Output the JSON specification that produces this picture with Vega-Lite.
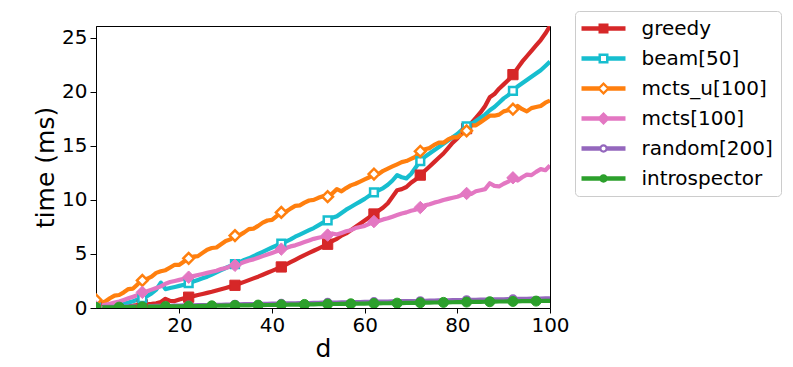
{
  "$schema": "https://vega.github.io/schema/vega-lite/v6.json",
  "width": 454,
  "height": 282,
  "autosize": {"type": "none"},
  "padding": {"left": 96, "top": 26, "right": 243, "bottom": 59},
  "background": "white",
  "config": {
    "font": "DejaVu Sans",
    "view": {"stroke": "#000000", "strokeWidth": 1},
    "axis": {"grid": false, "domainColor": "#000000", "tickColor": "#000000", "labelColor": "#000000", "titleColor": "#000000", "labelFont": "DejaVu Sans", "titleFont": "DejaVu Sans", "labelFontSize": 20, "titleFontSize": 25, "titleFontWeight": "normal", "domainWidth": 1, "tickWidth": 1, "labelFlush": false, "labelOverlap": false},
    "legend": {"symbolOpacity": 1}
  },
  "data": {"values": [
    {"d":2,"greedy":0.05,"beam":0.10,"mcts_u":0.75,"mcts":0.10,"random":0.08,"introspector":0.05},
    {"d":3,"greedy":0.06,"beam":0.12,"mcts_u":0.45,"mcts":0.20,"random":0.09,"introspector":0.06},
    {"d":4,"greedy":0.08,"beam":0.15,"mcts_u":0.60,"mcts":0.30,"random":0.10,"introspector":0.06},
    {"d":5,"greedy":0.09,"beam":0.20,"mcts_u":0.90,"mcts":0.40,"random":0.10,"introspector":0.07},
    {"d":6,"greedy":0.11,"beam":0.25,"mcts_u":1.15,"mcts":0.50,"random":0.11,"introspector":0.07},
    {"d":7,"greedy":0.13,"beam":0.32,"mcts_u":1.20,"mcts":0.60,"random":0.12,"introspector":0.08},
    {"d":8,"greedy":0.16,"beam":0.40,"mcts_u":1.45,"mcts":0.75,"random":0.13,"introspector":0.09},
    {"d":9,"greedy":0.19,"beam":0.50,"mcts_u":1.75,"mcts":0.90,"random":0.14,"introspector":0.09},
    {"d":10,"greedy":0.22,"beam":0.62,"mcts_u":1.80,"mcts":1.05,"random":0.15,"introspector":0.10},
    {"d":11,"greedy":0.26,"beam":0.78,"mcts_u":2.20,"mcts":1.20,"random":0.15,"introspector":0.10},
    {"d":12,"greedy":0.30,"beam":0.92,"mcts_u":2.55,"mcts":1.45,"random":0.16,"introspector":0.11},
    {"d":13,"greedy":0.34,"beam":1.10,"mcts_u":2.70,"mcts":1.55,"random":0.17,"introspector":0.12},
    {"d":14,"greedy":0.38,"beam":1.35,"mcts_u":2.90,"mcts":1.70,"random":0.18,"introspector":0.12},
    {"d":15,"greedy":0.43,"beam":1.70,"mcts_u":3.25,"mcts":1.85,"random":0.19,"introspector":0.13},
    {"d":16,"greedy":0.55,"beam":2.35,"mcts_u":3.40,"mcts":2.00,"random":0.20,"introspector":0.13},
    {"d":17,"greedy":0.85,"beam":1.75,"mcts_u":3.50,"mcts":2.25,"random":0.20,"introspector":0.14},
    {"d":18,"greedy":0.66,"beam":1.85,"mcts_u":3.75,"mcts":2.40,"random":0.21,"introspector":0.15},
    {"d":19,"greedy":0.64,"beam":1.95,"mcts_u":4.00,"mcts":2.50,"random":0.22,"introspector":0.15},
    {"d":20,"greedy":0.78,"beam":2.05,"mcts_u":4.00,"mcts":2.60,"random":0.23,"introspector":0.16},
    {"d":21,"greedy":0.90,"beam":2.15,"mcts_u":4.30,"mcts":2.70,"random":0.24,"introspector":0.16},
    {"d":22,"greedy":1.00,"beam":2.30,"mcts_u":4.60,"mcts":2.85,"random":0.25,"introspector":0.17},
    {"d":23,"greedy":1.10,"beam":2.45,"mcts_u":4.75,"mcts":2.95,"random":0.25,"introspector":0.18},
    {"d":24,"greedy":1.20,"beam":2.60,"mcts_u":4.80,"mcts":3.05,"random":0.26,"introspector":0.18},
    {"d":25,"greedy":1.30,"beam":2.75,"mcts_u":5.10,"mcts":3.15,"random":0.27,"introspector":0.19},
    {"d":26,"greedy":1.40,"beam":2.90,"mcts_u":5.40,"mcts":3.25,"random":0.28,"introspector":0.19},
    {"d":27,"greedy":1.50,"beam":3.10,"mcts_u":5.55,"mcts":3.35,"random":0.29,"introspector":0.20},
    {"d":28,"greedy":1.62,"beam":3.30,"mcts_u":5.60,"mcts":3.45,"random":0.30,"introspector":0.21},
    {"d":29,"greedy":1.74,"beam":3.50,"mcts_u":5.90,"mcts":3.60,"random":0.30,"introspector":0.22},
    {"d":30,"greedy":1.86,"beam":3.70,"mcts_u":6.20,"mcts":3.70,"random":0.31,"introspector":0.22},
    {"d":31,"greedy":1.98,"beam":3.90,"mcts_u":6.35,"mcts":3.85,"random":0.32,"introspector":0.23},
    {"d":32,"greedy":2.10,"beam":4.05,"mcts_u":6.70,"mcts":3.95,"random":0.33,"introspector":0.24},
    {"d":33,"greedy":2.26,"beam":4.25,"mcts_u":6.75,"mcts":4.10,"random":0.34,"introspector":0.24},
    {"d":34,"greedy":2.42,"beam":4.45,"mcts_u":7.00,"mcts":4.25,"random":0.35,"introspector":0.25},
    {"d":35,"greedy":2.58,"beam":4.60,"mcts_u":7.30,"mcts":4.40,"random":0.35,"introspector":0.25},
    {"d":36,"greedy":2.74,"beam":4.80,"mcts_u":7.35,"mcts":4.50,"random":0.36,"introspector":0.26},
    {"d":37,"greedy":2.90,"beam":5.00,"mcts_u":7.60,"mcts":4.65,"random":0.37,"introspector":0.27},
    {"d":38,"greedy":3.08,"beam":5.20,"mcts_u":7.90,"mcts":4.80,"random":0.38,"introspector":0.27},
    {"d":39,"greedy":3.26,"beam":5.40,"mcts_u":8.10,"mcts":4.95,"random":0.39,"introspector":0.28},
    {"d":40,"greedy":3.44,"beam":5.60,"mcts_u":8.15,"mcts":5.10,"random":0.40,"introspector":0.28},
    {"d":41,"greedy":3.62,"beam":5.80,"mcts_u":8.50,"mcts":5.25,"random":0.40,"introspector":0.29},
    {"d":42,"greedy":3.80,"beam":5.95,"mcts_u":8.85,"mcts":5.45,"random":0.41,"introspector":0.30},
    {"d":43,"greedy":4.02,"beam":6.15,"mcts_u":8.90,"mcts":5.55,"random":0.42,"introspector":0.30},
    {"d":44,"greedy":4.24,"beam":6.35,"mcts_u":9.20,"mcts":5.70,"random":0.43,"introspector":0.31},
    {"d":45,"greedy":4.46,"beam":6.60,"mcts_u":9.45,"mcts":5.80,"random":0.44,"introspector":0.32},
    {"d":46,"greedy":4.68,"beam":6.80,"mcts_u":9.50,"mcts":5.95,"random":0.45,"introspector":0.32},
    {"d":47,"greedy":4.90,"beam":7.00,"mcts_u":9.75,"mcts":6.10,"random":0.45,"introspector":0.33},
    {"d":48,"greedy":5.10,"beam":7.20,"mcts_u":9.95,"mcts":6.25,"random":0.46,"introspector":0.34},
    {"d":49,"greedy":5.30,"beam":7.40,"mcts_u":10.00,"mcts":6.40,"random":0.47,"introspector":0.34},
    {"d":50,"greedy":5.50,"beam":7.65,"mcts_u":10.20,"mcts":6.50,"random":0.48,"introspector":0.35},
    {"d":51,"greedy":5.70,"beam":7.90,"mcts_u":10.35,"mcts":6.60,"random":0.49,"introspector":0.35},
    {"d":52,"greedy":5.90,"beam":8.10,"mcts_u":10.30,"mcts":6.75,"random":0.50,"introspector":0.36},
    {"d":53,"greedy":6.20,"beam":8.35,"mcts_u":10.60,"mcts":6.90,"random":0.50,"introspector":0.37},
    {"d":54,"greedy":6.40,"beam":8.50,"mcts_u":11.00,"mcts":6.80,"random":0.51,"introspector":0.37},
    {"d":55,"greedy":6.70,"beam":8.80,"mcts_u":10.80,"mcts":6.95,"random":0.52,"introspector":0.38},
    {"d":56,"greedy":6.90,"beam":9.10,"mcts_u":11.10,"mcts":7.10,"random":0.53,"introspector":0.39},
    {"d":57,"greedy":7.20,"beam":9.35,"mcts_u":11.35,"mcts":7.20,"random":0.54,"introspector":0.39},
    {"d":58,"greedy":7.50,"beam":9.60,"mcts_u":11.50,"mcts":7.40,"random":0.55,"introspector":0.40},
    {"d":59,"greedy":7.80,"beam":9.85,"mcts_u":11.70,"mcts":7.50,"random":0.55,"introspector":0.40},
    {"d":60,"greedy":8.10,"beam":10.10,"mcts_u":11.90,"mcts":7.60,"random":0.56,"introspector":0.41},
    {"d":61,"greedy":8.40,"beam":10.40,"mcts_u":12.10,"mcts":7.80,"random":0.57,"introspector":0.42},
    {"d":62,"greedy":8.70,"beam":10.70,"mcts_u":12.40,"mcts":8.00,"random":0.58,"introspector":0.42},
    {"d":63,"greedy":9.00,"beam":10.90,"mcts_u":12.40,"mcts":8.05,"random":0.59,"introspector":0.43},
    {"d":64,"greedy":9.30,"beam":11.10,"mcts_u":12.70,"mcts":8.20,"random":0.60,"introspector":0.44},
    {"d":65,"greedy":9.70,"beam":11.40,"mcts_u":12.90,"mcts":8.30,"random":0.60,"introspector":0.44},
    {"d":66,"greedy":10.30,"beam":11.80,"mcts_u":13.10,"mcts":8.45,"random":0.61,"introspector":0.45},
    {"d":67,"greedy":10.90,"beam":12.30,"mcts_u":13.30,"mcts":8.60,"random":0.62,"introspector":0.45},
    {"d":68,"greedy":11.00,"beam":12.10,"mcts_u":13.50,"mcts":8.75,"random":0.63,"introspector":0.46},
    {"d":69,"greedy":11.20,"beam":12.00,"mcts_u":13.60,"mcts":8.85,"random":0.64,"introspector":0.47},
    {"d":70,"greedy":11.60,"beam":12.40,"mcts_u":13.80,"mcts":9.00,"random":0.65,"introspector":0.47},
    {"d":71,"greedy":11.90,"beam":13.00,"mcts_u":14.00,"mcts":9.10,"random":0.65,"introspector":0.48},
    {"d":72,"greedy":12.30,"beam":13.60,"mcts_u":14.50,"mcts":9.30,"random":0.66,"introspector":0.49},
    {"d":73,"greedy":12.70,"beam":14.00,"mcts_u":14.70,"mcts":9.50,"random":0.67,"introspector":0.49},
    {"d":74,"greedy":13.10,"beam":14.30,"mcts_u":14.80,"mcts":9.60,"random":0.68,"introspector":0.50},
    {"d":75,"greedy":13.50,"beam":14.60,"mcts_u":15.10,"mcts":9.75,"random":0.69,"introspector":0.51},
    {"d":76,"greedy":13.90,"beam":14.90,"mcts_u":15.30,"mcts":9.85,"random":0.70,"introspector":0.51},
    {"d":77,"greedy":14.30,"beam":15.20,"mcts_u":15.30,"mcts":10.00,"random":0.70,"introspector":0.52},
    {"d":78,"greedy":14.80,"beam":15.50,"mcts_u":15.60,"mcts":10.10,"random":0.71,"introspector":0.52},
    {"d":79,"greedy":15.30,"beam":15.80,"mcts_u":15.80,"mcts":10.20,"random":0.72,"introspector":0.53},
    {"d":80,"greedy":15.70,"beam":16.10,"mcts_u":15.80,"mcts":10.30,"random":0.73,"introspector":0.54},
    {"d":81,"greedy":16.20,"beam":16.50,"mcts_u":16.10,"mcts":10.45,"random":0.74,"introspector":0.54},
    {"d":82,"greedy":16.60,"beam":16.80,"mcts_u":16.40,"mcts":10.60,"random":0.75,"introspector":0.55},
    {"d":83,"greedy":17.10,"beam":17.00,"mcts_u":16.90,"mcts":10.55,"random":0.75,"introspector":0.56},
    {"d":84,"greedy":17.60,"beam":17.30,"mcts_u":16.90,"mcts":10.80,"random":0.76,"introspector":0.56},
    {"d":85,"greedy":18.10,"beam":17.60,"mcts_u":17.20,"mcts":10.90,"random":0.77,"introspector":0.57},
    {"d":86,"greedy":18.70,"beam":17.90,"mcts_u":17.50,"mcts":11.00,"random":0.78,"introspector":0.58},
    {"d":87,"greedy":19.50,"beam":18.30,"mcts_u":17.80,"mcts":11.55,"random":0.79,"introspector":0.58},
    {"d":88,"greedy":19.80,"beam":18.60,"mcts_u":17.80,"mcts":11.30,"random":0.80,"introspector":0.59},
    {"d":89,"greedy":20.30,"beam":19.00,"mcts_u":17.90,"mcts":11.25,"random":0.80,"introspector":0.60},
    {"d":90,"greedy":20.70,"beam":19.40,"mcts_u":18.20,"mcts":11.50,"random":0.81,"introspector":0.60},
    {"d":91,"greedy":21.10,"beam":19.70,"mcts_u":18.30,"mcts":11.70,"random":0.82,"introspector":0.61},
    {"d":92,"greedy":21.60,"beam":20.10,"mcts_u":18.40,"mcts":12.05,"random":0.83,"introspector":0.61},
    {"d":93,"greedy":22.20,"beam":20.50,"mcts_u":18.70,"mcts":11.80,"random":0.84,"introspector":0.62},
    {"d":94,"greedy":22.80,"beam":20.80,"mcts_u":18.40,"mcts":12.10,"random":0.85,"introspector":0.63},
    {"d":95,"greedy":23.30,"beam":21.10,"mcts_u":18.20,"mcts":12.35,"random":0.85,"introspector":0.63},
    {"d":96,"greedy":23.80,"beam":21.40,"mcts_u":18.50,"mcts":12.30,"random":0.86,"introspector":0.64},
    {"d":97,"greedy":24.30,"beam":21.70,"mcts_u":18.60,"mcts":12.60,"random":0.87,"introspector":0.64},
    {"d":98,"greedy":24.80,"beam":22.00,"mcts_u":18.70,"mcts":12.85,"random":0.88,"introspector":0.65},
    {"d":99,"greedy":25.40,"beam":22.40,"mcts_u":19.00,"mcts":12.75,"random":0.89,"introspector":0.66},
    {"d":100,"greedy":26.10,"beam":22.80,"mcts_u":19.20,"mcts":13.20,"random":0.90,"introspector":0.66}
  ]},
  "transform": [{"fold": ["greedy", "beam", "mcts_u", "mcts", "random", "introspector"], "as": ["series", "time"]}],
  "encoding": {
    "x": {"field": "d", "type": "quantitative", "scale": {"domain": [2, 100], "nice": false, "zero": false}, "axis": {"title": "d", "values": [20, 40, 60, 80, 100], "tickSize": 5, "labelPadding": 2, "titlePadding": 1}},
    "y": {"field": "time", "type": "quantitative", "scale": {"domain": [0, 26.1], "nice": false, "zero": false}, "axis": {"title": "time (ms)", "values": [0, 5, 10, 15, 20, 25], "tickSize": 6, "labelPadding": 3, "titlePadding": 3}}
  },
  "layer": [
    {
      "transform": [{"filter": "datum.d == 2"}],
      "mark": {"type": "point", "filled": true, "opacity": 0},
      "encoding": {
        "color": {
          "field": "series", "type": "nominal",
          "scale": {"domain": ["greedy", "beam", "mcts_u", "mcts", "random", "introspector"], "range": ["#d62728", "#17becf", "#ff7f0e", "#e377c2", "#9467bd", "#2ca02c"]},
          "legend": {"title": null, "orient": "none", "legendX": 479, "legendY": -15, "direction": "vertical", "labelFontSize": 20, "labelFont": "DejaVu Sans", "labelColor": "#000000", "labelExpr": "datum.label == 'beam' ? 'beam[50]' : datum.label == 'mcts_u' ? 'mcts_u[100]' : datum.label == 'mcts' ? 'mcts[100]' : datum.label == 'random' ? 'random[200]' : datum.label", "symbolSize": 400, "symbolStrokeWidth": 0, "symbolOpacity": 1, "rowPadding": 10, "labelOffset": 39, "padding": 7.5, "strokeColor": "#cccccc", "fillColor": "#ffffff", "cornerRadius": 4, "labelLimit": 300}
        },
        "shape": {
          "field": "series", "type": "nominal",
          "scale": {"domain": ["greedy", "beam", "mcts_u", "mcts", "random", "introspector"], "range": [
            "M-1.1,-0.22H3.3V0.22H-1.1Z M0.6,-0.5H1.6V0.5H0.6Z",
            "M-1.1,-0.22H0.62V0.22H-1.1Z M1.58,-0.22H3.3V0.22H1.58Z M0.6,-0.5H1.6V0.5H0.6Z M0.85,-0.25V0.25H1.35V-0.25Z",
            "M-1.1,-0.22H0.7V0.22H-1.1Z M1.5,-0.22H3.3V0.22H1.5Z M0.45,0L1.1,-0.65L1.75,0L1.1,0.65Z M0.77,0L1.1,0.33L1.43,0L1.1,-0.33Z",
            "M-1.1,-0.22H3.3V0.22H-1.1Z M0.45,0L1.1,-0.65L1.75,0L1.1,0.65Z",
            "M-1.1,-0.22H0.75V0.22H-1.1Z M1.45,-0.22H3.3V0.22H1.45Z M0.68,0A0.42,0.42,0,1,1,1.52,0A0.42,0.42,0,1,1,0.68,0Z M0.9,0A0.2,0.2,0,1,0,1.3,0A0.2,0.2,0,1,0,0.9,0Z",
            "M-1.1,-0.22H3.3V0.22H-1.1Z M0.68,0A0.42,0.42,0,1,1,1.52,0A0.42,0.42,0,1,1,0.68,0Z"
          ]},
          "legend": {"title": null, "orient": "none", "legendX": 479, "legendY": -15, "direction": "vertical", "labelFontSize": 20, "labelFont": "DejaVu Sans", "labelColor": "#000000", "labelExpr": "datum.label == 'beam' ? 'beam[50]' : datum.label == 'mcts_u' ? 'mcts_u[100]' : datum.label == 'mcts' ? 'mcts[100]' : datum.label == 'random' ? 'random[200]' : datum.label", "symbolSize": 400, "symbolStrokeWidth": 0, "symbolOpacity": 1, "rowPadding": 10, "labelOffset": 39, "padding": 7.5, "strokeColor": "#cccccc", "fillColor": "#ffffff", "cornerRadius": 4, "labelLimit": 300}
        }
      }
    },
    {
      "mark": {"type": "line", "strokeWidth": 4.2, "clip": true, "strokeJoin": "round"},
      "encoding": {"color": {"field": "series", "type": "nominal", "legend": null}}
    },
    {
      "transform": [{"filter": "datum.series == 'introspector' ? (datum.d - 2) % 5 == 0 : (datum.d - 2) % 10 == 0"}],
      "mark": {"type": "point", "clip": true, "opacity": 1},
      "encoding": {
        "shape": {"condition": [{"test": "datum.series == 'greedy' || datum.series == 'beam'", "value": "square"}, {"test": "datum.series == 'mcts_u' || datum.series == 'mcts'", "value": "diamond"}], "value": "circle"},
        "size": {"condition": [{"test": "datum.series == 'greedy'", "value": 105}, {"test": "datum.series == 'beam'", "value": 60}, {"test": "datum.series == 'mcts_u'", "value": 115}, {"test": "datum.series == 'mcts'", "value": 155}, {"test": "datum.series == 'random'", "value": 56}], "value": 100},
        "fill": {"condition": [{"test": "datum.series == 'greedy'", "value": "#d62728"}, {"test": "datum.series == 'mcts'", "value": "#e377c2"}, {"test": "datum.series == 'introspector'", "value": "#2ca02c"}], "value": "#ffffff"},
        "stroke": {"condition": [{"test": "datum.series == 'greedy'", "value": "#d62728"}, {"test": "datum.series == 'beam'", "value": "#17becf"}, {"test": "datum.series == 'mcts_u'", "value": "#ff7f0e"}, {"test": "datum.series == 'mcts'", "value": "#e377c2"}, {"test": "datum.series == 'random'", "value": "#9467bd"}], "value": "#2ca02c"},
        "strokeWidth": {"condition": [{"test": "datum.series == 'beam' || datum.series == 'mcts_u'", "value": 2.5}, {"test": "datum.series == 'random'", "value": 2}], "value": 1}
      }
    }
  ]
}
